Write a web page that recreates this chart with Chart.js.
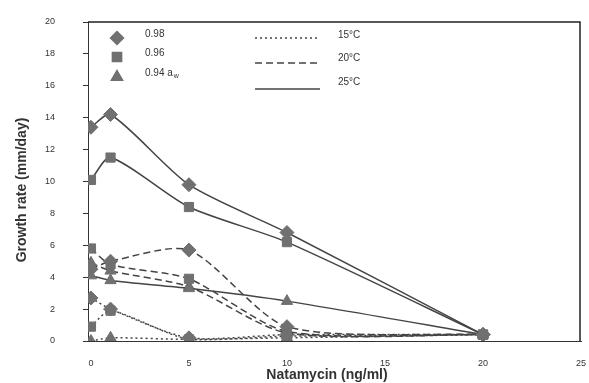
<!DOCTYPE html>
<html>
<head>
<meta charset="utf-8">
<script src="https://cdn.jsdelivr.net/npm/chart.js@4"></script>
<style>
  html, body { margin: 0; padding: 0; background: #fff; }
  #wrap { width: 589px; height: 383px; }
</style>
</head>
<body>
<div id="wrap"><canvas id="growthChart"></canvas></div>
<script>
// Natamycin doses (ng/ml) and axis ticks
const doses = [0, 1, 5, 10, 20];
const xTicks = [0, 5, 10, 15, 20, 25];
const yTicks = [0, 2, 4, 6, 8, 10, 12, 14, 16, 18, 20];

// Growth rate (mm/day) per temperature and water activity
const t25aw98 = [13.4, 14.2, 9.8, 6.8, 0.4];
const t25aw96 = [10.1, 11.5, 8.4, 6.2, 0.4];
const t25aw94 = [4.1, 3.8, 3.3, 2.5, 0.4];
const t20aw98 = [4.5, 5.0, 5.7, 0.9, 0.4];
const t20aw96 = [5.8, 4.8, 3.9, 0.6, 0.4];
const t20aw94 = [4.9, 4.4, 3.4, 0.5, 0.4];
const t15aw98 = [2.7, 2.0, 0.2, 0.4, 0.4];
const t15aw96 = [0.9, 1.9, 0.1, 0.3, 0.4];
const t15aw94 = [0.0, 0.2, 0.1, 0.2, 0.4];

const awLabels = ['0.98', '0.96', '0.94 a'];
const tempLabels = ['15°C', '20°C', '25°C'];

const markerColor = '#707070';
const lineColor = '#444';
const textColor = '#333';
const dashes = { 15: [2, 3], 20: [7, 4], 25: [] };
const shapes = { 98: 'rectRot', 96: 'rect', 94: 'triangle' };

function makeSeries(values, temp, aw) {
  return {
    label: temp + '°C aw 0.' + aw,
    data: values.map((v, i) => ({ x: doses[i], y: v })),
    showLine: true,
    borderColor: lineColor,
    borderWidth: 1.5,
    borderDash: dashes[temp],
    tension: 0.25,
    pointStyle: shapes[aw],
    pointRadius: aw === 98 ? 7 : 6.5,
    pointBackgroundColor: markerColor,
    pointBorderColor: markerColor,
    pointBorderWidth: 1
  };
}

// Frame, axis titles and the two-part legend
const decorPlugin = {
  id: 'decor',
  afterDraw(chart) {
    const ctx = chart.ctx;
    const a = chart.chartArea;
    ctx.save();
    ctx.strokeStyle = '#222';
    ctx.lineWidth = 1.5;
    ctx.setLineDash([]);
    ctx.beginPath();
    ctx.moveTo(a.left, a.top);
    ctx.lineTo(a.right - 1, a.top);
    ctx.lineTo(a.right - 1, a.bottom);
    ctx.stroke();

    ctx.fillStyle = textColor;
    ctx.font = 'bold 14px "Liberation Sans", Arial, sans-serif';
    ctx.textAlign = 'center';
    ctx.textBaseline = 'middle';
    ctx.fillText('Natamycin (ng/ml)', 327, 375);
    ctx.save();
    ctx.translate(22, 190);
    ctx.rotate(-Math.PI / 2);
    ctx.fillText('Growth rate (mm/day)', 0, 0);
    ctx.restore();

    // marker legend
    const styles = ['rectRot', 'rect', 'triangle'];
    const rows = [38, 57, 77];
    ctx.font = '10px "Liberation Sans", Arial, sans-serif';
    ctx.textAlign = 'left';
    styles.forEach((s, i) => {
      ctx.fillStyle = markerColor;
      ctx.strokeStyle = markerColor;
      Chart.helpers.drawPoint(ctx, { pointStyle: s, radius: 6.5, borderWidth: 1 }, 117, rows[i]);
      ctx.fillStyle = textColor;
      ctx.fillText(awLabels[i], 145, rows[i] - 4);
    });
    const awWidth = ctx.measureText(awLabels[2]).width;
    ctx.font = '7px "Liberation Sans", Arial, sans-serif';
    ctx.fillText('w', 145 + awWidth + 1, rows[2] - 1);

    // line-style legend
    const lineRows = [38, 63, 89];
    const labelRows = [35, 58, 82];
    const dashList = [dashes[15], dashes[20], dashes[25]];
    ctx.strokeStyle = lineColor;
    ctx.lineWidth = 1.5;
    lineRows.forEach((y, i) => {
      ctx.setLineDash(dashList[i]);
      ctx.beginPath();
      ctx.moveTo(255, y);
      ctx.lineTo(320, y);
      ctx.stroke();
    });
    ctx.setLineDash([]);
    ctx.font = '10px "Liberation Sans", Arial, sans-serif';
    ctx.fillStyle = textColor;
    tempLabels.forEach((t, i) => {
      ctx.fillText(t, 338, labelRows[i]);
    });
    ctx.restore();
  }
};

const tickFont = { family: '"Liberation Sans", Arial, sans-serif', size: 9 };

new Chart(document.getElementById('growthChart'), {
  type: 'scatter',
  data: {
    datasets: [
      makeSeries(t25aw98, 25, 98),
      makeSeries(t25aw96, 25, 96),
      makeSeries(t25aw94, 25, 94),
      makeSeries(t20aw98, 20, 98),
      makeSeries(t20aw96, 20, 96),
      makeSeries(t20aw94, 20, 94),
      makeSeries(t15aw98, 15, 98),
      makeSeries(t15aw96, 15, 96),
      makeSeries(t15aw94, 15, 94)
    ]
  },
  options: {
    responsive: true,
    maintainAspectRatio: false,
    animation: false,
    layout: { padding: { top: 22, right: 4, left: 0, bottom: 0 } },
    plugins: {
      legend: { display: false },
      tooltip: { enabled: false }
    },
    scales: {
      x: {
        type: 'linear',
        min: -0.15,
        max: 25,
        afterBuildTicks: axis => { axis.ticks = xTicks.map(v => ({ value: v })); },
        afterFit: axis => {
          axis.height = 42;
          axis.paddingLeft = 0;
          axis.paddingRight = 0;
        },
        grid: { display: false },
        border: { display: true, color: '#333', width: 1 },
        ticks: { color: textColor, font: tickFont, padding: 9 }
      },
      y: {
        type: 'linear',
        min: 0,
        max: 20,
        afterBuildTicks: axis => { axis.ticks = yTicks.map(v => ({ value: v })); },
        afterFit: axis => {
          axis.width = 88;
          axis.paddingTop = 0;
          axis.paddingBottom = 0;
        },
        grid: { drawOnChartArea: false, tickLength: 5, color: '#333' },
        border: { display: true, color: '#333', width: 1 },
        ticks: { color: textColor, font: tickFont, padding: 28 }
      }
    }
  },
  plugins: [decorPlugin]
});
</script>
</body>
</html>
